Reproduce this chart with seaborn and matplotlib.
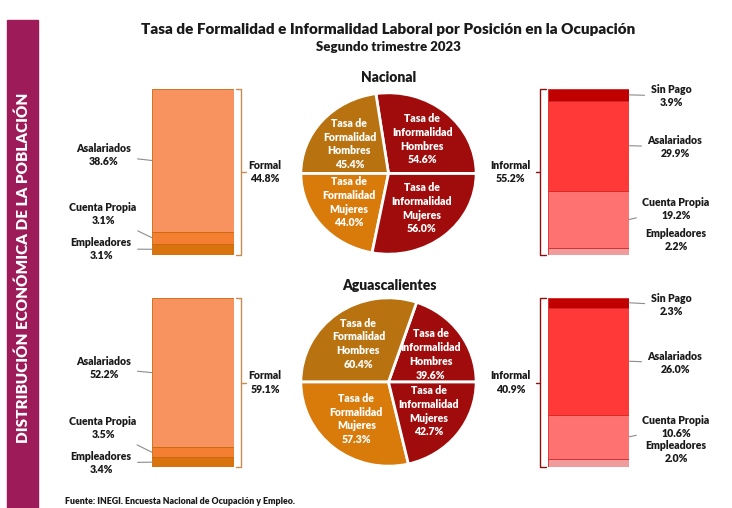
import numpy as np
import matplotlib
matplotlib.use("Agg")
import matplotlib.pyplot as plt
import seaborn as sns
from matplotlib.patches import Rectangle

# data
regions = ["Nacional", "Aguascalientes"]

formal_labels = ["Empleadores", "Cuenta Propia", "Asalariados"]
formal_nac = [3.1, 3.1, 38.6]
formal_ags = [3.4, 3.5, 52.2]
formal_total = [44.8, 59.1]

informal_labels = ["Empleadores", "Cuenta Propia", "Asalariados", "Sin Pago"]
informal_nac = [2.2, 19.2, 29.9, 3.9]
informal_ags = [2.0, 10.6, 26.0, 2.3]
informal_total = [55.2, 40.9]

formal_hombres = [45.4, 60.4]
informal_hombres = [54.6, 39.6]
formal_mujeres = [44.0, 57.3]
informal_mujeres = [56.0, 42.7]

# colours
formal_colors = ["#D9730D", "#F47F32", "#F8935F"]
informal_colors = ["#F09C9C", "#FF7272", "#FF3838", "#C00000"]
pie_colors = ["#A00C0C", "#B8720F", "#D97B0B", "#A00C0C"]

sns.set_theme(style="white")
plt.rcParams["font.family"] = ["Lato", "DejaVu Sans"]

W, H = 732, 508
fig = plt.figure(figsize=(W / 100, H / 100), dpi=100)
fig.patch.set_facecolor("white")

LBL = 7.6  # label font size


def px_axes(x0, y0, x1, y1):
    ax = fig.add_axes([x0 / W, 1 - y1 / H, (x1 - x0) / W, (y1 - y0) / H])
    ax.set_axis_off()
    return ax


def fig_pt(x, y):
    # pixel from top-left -> figure pixels from bottom-left
    return (x, H - y)


# side band
fig.patches.append(Rectangle((7 / W, 0), 31 / W, 1 - 20 / H,
                             transform=fig.transFigure, color="#9E1B59", zorder=0))
fig.text(22.5 / W, 1 - 268 / H, "DISTRIBUCIÓN ECONÓMICA DE LA POBLACIÓN",
         rotation=90, color="white", fontsize=11, fontweight="heavy",
         ha="center", va="center")

# titles
fig.text(388 / W, 1 - 29 / H,
         "Tasa de Formalidad e Informalidad Laboral por Posición en la Ocupación",
         ha="center", va="center", fontsize=11, fontweight="heavy", color="#1a1a1a")
fig.text(388 / W, 1 - 47 / H, "Segundo trimestre 2023",
         ha="center", va="center", fontsize=9.5, fontweight="heavy", color="#1a1a1a")
fig.text(65 / W, 1 - 506 / H,
         "Fuente: INEGI. Encuesta Nacional de Ocupación y Empleo.",
         ha="left", va="bottom", fontsize=6.3, fontweight="heavy", color="#1a1a1a")

# layout of the two rows (top, bottom pixels of bars and pies)
rows = [
    dict(bar=(89, 255), pie=(92, 255), name_y=77),
    dict(bar=(298, 467), pie=(297, 467), name_y=285),
]

# label anchor positions (text centre, pixels) per row
formal_text = [
    {"Asalariados": (104, 155), "Cuenta Propia": (103, 214), "Empleadores": (101, 249)},
    {"Asalariados": (104, 368), "Cuenta Propia": (103, 428), "Empleadores": (101, 463)},
]
informal_text = [
    {"Sin Pago": (671, 96), "Asalariados": (675, 147), "Cuenta Propia": (676, 209),
     "Empleadores": (676, 240)},
    {"Sin Pago": (671, 305), "Asalariados": (675, 363), "Cuenta Propia": (676, 427),
     "Empleadores": (676, 452)},
]

formal_vals = [formal_nac, formal_ags]
informal_vals = [informal_nac, informal_ags]
lead = dict(arrowstyle="-", color="#8c8c8c", lw=0.8, shrinkA=2, shrinkB=0)

for i, row in enumerate(rows):
    b0, b1 = row["bar"]

    # ---- formal stacked bar (left)
    ax = px_axes(152, b0, 234, b1)
    bottom = 0
    for lab, val, col in zip(formal_labels, formal_vals[i], formal_colors):
        ax.bar(0.5, val, width=1, bottom=bottom, color=col,
               edgecolor="#C9670A", linewidth=0.6)
        tx, ty = formal_text[i][lab]
        ax.annotate(f"{lab}\n{val:.1f}%", xy=(0, bottom + val / 2),
                    xytext=fig_pt(tx, ty), textcoords="figure pixels",
                    ha="center", va="center", fontsize=LBL, fontweight="heavy",
                    color="#1a1a1a", linespacing=1.3, arrowprops=lead,
                    annotation_clip=False)
        bottom += val
    ax.set_xlim(0, 1)
    ax.set_ylim(0, formal_total[i])
    tot = formal_total[i]
    bc = "#C98B4E"
    ax.plot([1.02, 1.09, 1.09, 1.02], [tot, tot, 0, 0], color=bc, lw=1, clip_on=False)
    ax.plot([1.09, 1.15], [tot / 2, tot / 2], color=bc, lw=1, clip_on=False)
    ax.text(1.38, tot / 2, f"Formal\n{tot:.1f}%", ha="center", va="center",
            fontsize=LBL, fontweight="heavy", color="#1a1a1a", linespacing=1.3)

    # ---- informal stacked bar (right)
    ax = px_axes(548, b0, 629, b1)
    bottom = 0
    for lab, val, col in zip(informal_labels, informal_vals[i], informal_colors):
        ax.bar(0.5, val, width=1, bottom=bottom, color=col,
               edgecolor="#D42A2A", linewidth=0.6)
        tx, ty = informal_text[i][lab]
        arrow = None if lab == "Empleadores" else lead
        ax.annotate(f"{lab}\n{val:.1f}%", xy=(1, bottom + val / 2),
                    xytext=fig_pt(tx, ty), textcoords="figure pixels",
                    ha="center", va="center", fontsize=LBL, fontweight="heavy",
                    color="#1a1a1a", linespacing=1.3, arrowprops=arrow,
                    annotation_clip=False)
        bottom += val
    ax.set_xlim(0, 1)
    ax.set_ylim(0, informal_total[i])
    tot = informal_total[i]
    bc = "#8B1010"
    ax.plot([-0.02, -0.10, -0.10, -0.02], [tot, tot, 0, 0], color=bc, lw=1, clip_on=False)
    ax.plot([-0.10, -0.15], [tot / 2, tot / 2], color=bc, lw=1, clip_on=False)
    ax.text(-0.46, tot / 2, f"Informal\n{tot:.1f}%", ha="center", va="center",
            fontsize=LBL, fontweight="heavy", color="#1a1a1a", linespacing=1.3)

    # ---- pie (top half men, bottom half women)
    p0, p1 = row["pie"]
    ax = px_axes(300, p0, 477, p1)
    vals = [informal_hombres[i], formal_hombres[i], formal_mujeres[i], informal_mujeres[i]]
    names = ["Tasa de\nInformalidad\nHombres", "Tasa de\nFormalidad\nHombres",
             "Tasa de\nFormalidad\nMujeres", "Tasa de\nInformalidad\nMujeres"]
    ax.pie(vals, colors=pie_colors, startangle=0, counterclock=True,
           wedgeprops=dict(edgecolor="white", linewidth=2))
    ax.set_aspect("auto")
    ax.set_xlim(-1.01, 1.01)
    ax.set_ylim(-1.01, 1.01)
    ang = np.cumsum([0] + vals) / np.sum(vals) * 360
    for k, (nm, v) in enumerate(zip(names, vals)):
        mid = np.deg2rad((ang[k] + ang[k + 1]) / 2)
        ax.text(0.59 * np.cos(mid), 0.56 * np.sin(mid), f"{nm}\n{v:.1f}%",
                ha="center", va="center", color="white", fontsize=LBL,
                fontweight="heavy", linespacing=1.3)

    fig.text(389 / W, 1 - row["name_y"] / H, regions[i], ha="center", va="center",
             fontsize=10, fontweight="heavy", color="#1a1a1a")

fig.savefig("out.png", dpi=100, facecolor="white")
